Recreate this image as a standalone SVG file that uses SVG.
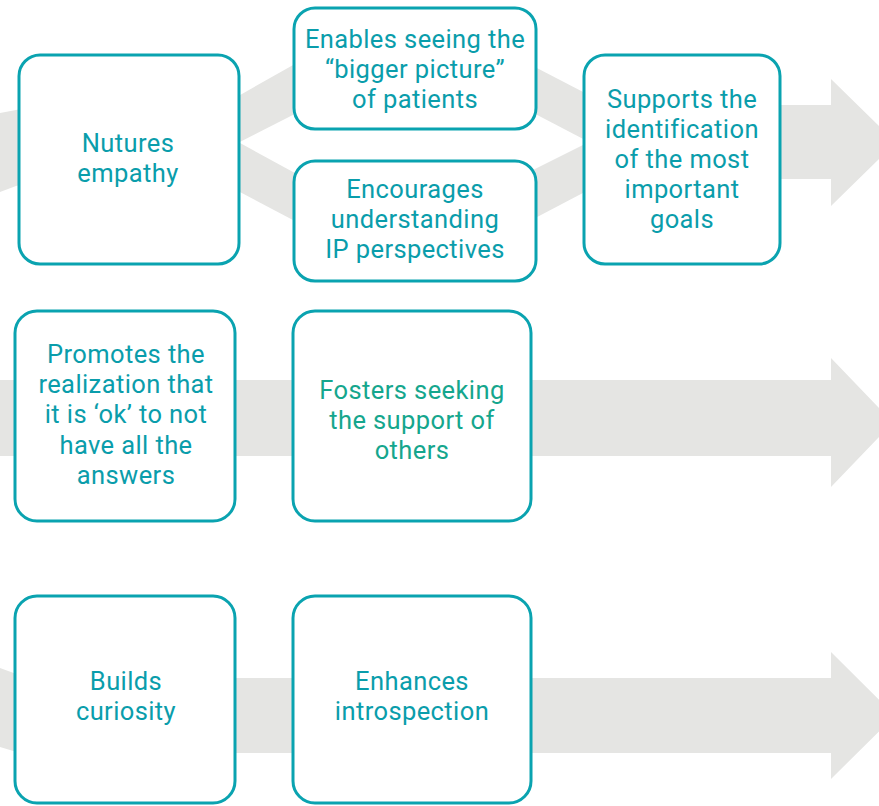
<svg xmlns="http://www.w3.org/2000/svg" width="879" height="806" viewBox="0 0 879 806">
<style>
.bg{fill:#e5e5e3;stroke:none}
.box{fill:#ffffff;stroke:#0aa3b0;stroke-width:3}
.t{font-family:Roboto,"Open Sans","DejaVu Sans",sans-serif;font-size:25.5px;letter-spacing:0.4px;fill:#0a9dab;text-anchor:middle}
.g{fill:#15a68d}
</style>
<rect width="879" height="806" fill="#ffffff"/>
<g id="connectors">
  <polygon class="bg" points="0,113 16,110 60,100 60,175 16,186 0,192"/>
  <polygon class="bg" points="230,100.7 310,55.4 310,106.3 230,147.1"/>
  <polygon class="bg" points="230,137.5 310,181.3 310,229 230,186.7"/>
  <polygon class="bg" points="520,59.2 600,100.8 600,147.8 520,106.1"/>
  <polygon class="bg" points="520,176.5 600,136.5 600,184.1 520,225.9"/>
  <polygon class="bg" points="770,105 831,105 831,79 896,142.5 831,206 831,179 770,179"/>
  <polygon class="bg" points="0,380 831,380 831,358 893,422.5 831,487 831,456 0,456"/>
  <polygon class="bg" points="0,668 60,690 60,765 0,747"/>
  <polygon class="bg" points="200,678 831,678 831,652 895,715.5 831,779 831,753 200,753"/>
</g>
<g id="n-nutures">
  <rect class="box" x="19" y="55" width="220" height="209" rx="21"/>
  <text class="t" x="128" y="152">Nutures<tspan x="128" dy="30">empathy</tspan></text>
</g>
<g id="n-enables">
  <rect class="box" x="294" y="8" width="242" height="121" rx="21"/>
  <text class="t" x="415" y="48">Enables seeing the<tspan x="415" dy="30">“bigger picture”</tspan><tspan x="415" dy="30">of patients</tspan></text>
</g>
<g id="n-encourages">
  <rect class="box" x="294" y="161" width="242" height="120" rx="21"/>
  <text class="t" x="415" y="198">Encourages<tspan x="415" dy="30">understanding</tspan><tspan x="415" dy="30">IP perspectives</tspan></text>
</g>
<g id="n-supports">
  <rect class="box" x="584" y="55" width="196" height="209" rx="21"/>
  <text class="t" x="682" y="108">Supports the<tspan x="682" dy="30">identification</tspan><tspan x="682" dy="30">of the most</tspan><tspan x="682" dy="30">important</tspan><tspan x="682" dy="30">goals</tspan></text>
</g>
<g id="n-promotes">
  <rect class="box" x="15" y="311" width="220" height="210" rx="22"/>
  <text class="t" x="126" y="363">Promotes the<tspan x="126" dy="30">realization that</tspan><tspan x="126" dy="30">it is ‘ok’ to not</tspan><tspan x="126" dy="30.5">have all the</tspan><tspan x="126" dy="30.5">answers</tspan></text>
</g>
<g id="n-fosters">
  <rect class="box" x="293" y="311" width="238" height="210" rx="22"/>
  <text class="t g" x="412" y="399">Fosters seeking<tspan x="412" dy="30">the support of</tspan><tspan x="412" dy="30">others</tspan></text>
</g>
<g id="n-builds">
  <rect class="box" x="15" y="596" width="220" height="207" rx="22"/>
  <text class="t" x="126" y="690">Builds<tspan x="126" dy="30">curiosity</tspan></text>
</g>
<g id="n-enhances">
  <rect class="box" x="293" y="596" width="238" height="207" rx="22"/>
  <text class="t" x="412" y="690">Enhances<tspan x="412" dy="30">introspection</tspan></text>
</g>
</svg>
